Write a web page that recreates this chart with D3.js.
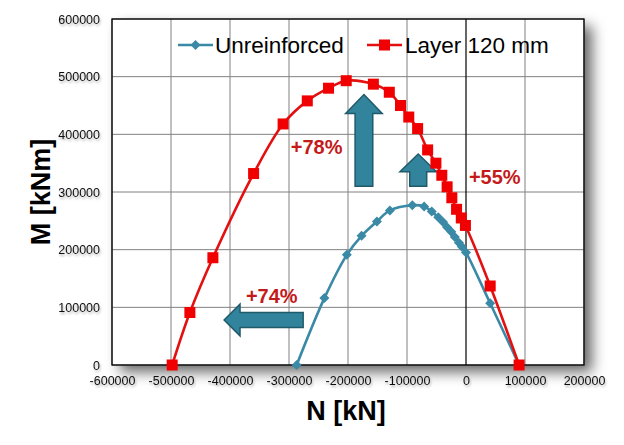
<!DOCTYPE html>
<html>
<head>
<meta charset="utf-8">
<script src="https://cdn.jsdelivr.net/npm/d3@7"></script>
<style>
body { margin: 0; background: #fff; }
svg { display: block; font-family: Arial, "Liberation Sans", sans-serif; }
</style>
</head>
<body>
<svg id="chart" width="624" height="445"></svg>
<script>
// series: Unreinforced
var unrN = [-287000, -240000, -202000, -177000, -151000, -129000, -91000, -71000, -58000, -47000, -39000, -32000, -25000, -19000, -12000, -7000, 0, 41000, 90000];
var unrM = [0, 116000, 191000, 224000, 249000, 268000, 277000, 275000, 266000, 256000, 248000, 239000, 231000, 222000, 212000, 205000, 195000, 107000, 0];
// series: Layer 120 mm
var layN = [-498000, -468000, -429000, -360000, -310000, -269000, -233000, -203000, -157000, -130000, -111000, -97000, -82000, -65000, -51000, -41000, -32000, -24000, -16000, -8000, -1000, 41000, 90000];
var layM = [0, 91000, 186000, 332000, 418000, 458000, 480000, 493000, 487000, 473000, 450000, 430000, 410000, 373000, 350000, 329000, 309000, 290000, 270000, 255000, 242000, 137000, 0];

var xTicks = [-600000, -500000, -400000, -300000, -200000, -100000, 0, 100000, 200000];
var yTicks = [0, 100000, 200000, 300000, 400000, 500000, 600000];
var seriesNames = ["Unreinforced", "Layer 120 mm"];

// annotations (data units)
var labels = [
  { text: "+78%", n: -297000, m: 366000 },
  { text: "+55%", n: 5000, m: 314000 },
  { text: "+74%", n: -373000, m: 107000 }
];
// up arrows: center N, tip M, head base M, tail M, head half width, shaft half width (N units)
var upArrows = [
  { n: -173000, tip: 469000, head: 436000, tail: 310000, hw: 31000, sw: 15000 },
  { n: -81000, tip: 366000, head: 335000, tail: 310000, hw: 31000, sw: 14400 }
];
// left arrow: center M, tip N, head base N, tail N, half heights (M units)
var leftArrows = [
  { m: 78000, tip: -410000, head: -383000, tail: -276000, hh: 27500, sh: 13000 }
];

var svg = d3.select("#chart");
var margin = { top: 19, right: 40, bottom: 80, left: 112 };
var width = +svg.attr("width") - margin.left - margin.right;
var height = +svg.attr("height") - margin.top - margin.bottom;

var defs = svg.append("defs");
var sh = defs.append("filter").attr("id", "shadow").attr("x", "-10%").attr("y", "-10%").attr("width", "130%").attr("height", "130%");
sh.append("feDropShadow").attr("dx", 8).attr("dy", 7).attr("stdDeviation", 7).attr("flood-color", "#000").attr("flood-opacity", 0.6);
var tsh = defs.append("filter").attr("id", "tshadow").attr("x", "-20%").attr("y", "-50%").attr("width", "140%").attr("height", "200%");
tsh.append("feDropShadow").attr("dx", 1).attr("dy", 2).attr("stdDeviation", 1.2).attr("flood-color", "#000").attr("flood-opacity", 0.3);

var g = svg.append("g").attr("transform", "translate(" + margin.left + "," + margin.top + ")");

var x = d3.scaleLinear().domain([-600000, 200000]).range([0, width]);
var y = d3.scaleLinear().domain([0, 600000]).range([height, 0]);

g.append("rect").attr("width", width).attr("height", height)
  .attr("fill", "#fff").attr("filter", "url(#shadow)");

// grid
g.append("g").selectAll("line").data(xTicks.filter(function (d) { return d !== 0; }))
  .enter().append("line")
  .attr("x1", function (d) { return x(d); }).attr("x2", function (d) { return x(d); })
  .attr("y1", 0).attr("y2", height)
  .attr("stroke", "#808080").attr("stroke-width", 1);
g.append("g").selectAll("line").data(yTicks)
  .enter().append("line")
  .attr("x1", 0).attr("x2", width)
  .attr("y1", function (d) { return y(d); }).attr("y2", function (d) { return y(d); })
  .attr("stroke", "#808080").attr("stroke-width", 1);
g.append("line").attr("x1", x(0)).attr("x2", x(0)).attr("y1", 0).attr("y2", height)
  .attr("stroke", "#000").attr("stroke-width", 1.2);

g.append("rect").attr("width", width).attr("height", height)
  .attr("fill", "none").attr("stroke", "#000").attr("stroke-width", 1.3);

// tick labels (plain hyphen minus like the original)
var fmt = function (d) { return String(d); };
var xAxis = g.append("g").attr("transform", "translate(0," + height + ")")
  .call(d3.axisBottom(x).tickValues(xTicks).tickFormat(fmt).tickSize(0).tickPadding(11));
var yAxis = g.append("g")
  .call(d3.axisLeft(y).tickValues(yTicks).tickFormat(fmt).tickSize(0).tickPadding(12));
[xAxis, yAxis].forEach(function (a) {
  a.select(".domain").remove();
  a.selectAll("text").attr("font-size", 12.5).attr("fill", "#111")
    .attr("font-family", "Arial, 'Liberation Sans', sans-serif").attr("filter", "url(#tshadow)");
});

// arrows
var arrowFill = "#31849b", arrowStroke = "#215a6b";
g.selectAll(".uparrow").data(upArrows).enter().append("path")
  .attr("class", "uparrow")
  .attr("d", function (a) {
    var pts = [[a.n, a.tip], [a.n + a.hw, a.head], [a.n + a.sw, a.head], [a.n + a.sw, a.tail],
      [a.n - a.sw, a.tail], [a.n - a.sw, a.head], [a.n - a.hw, a.head]];
    return "M" + pts.map(function (p) { return x(p[0]) + "," + y(p[1]); }).join("L") + "Z";
  })
  .attr("fill", arrowFill).attr("stroke", arrowStroke).attr("stroke-width", 1.5);
g.selectAll(".leftarrow").data(leftArrows).enter().append("path")
  .attr("class", "leftarrow")
  .attr("d", function (a) {
    var pts = [[a.tip, a.m], [a.head, a.m + a.hh], [a.head, a.m + a.sh], [a.tail, a.m + a.sh],
      [a.tail, a.m - a.sh], [a.head, a.m - a.sh], [a.head, a.m - a.hh]];
    return "M" + pts.map(function (p) { return x(p[0]) + "," + y(p[1]); }).join("L") + "Z";
  })
  .attr("fill", arrowFill).attr("stroke", arrowStroke).attr("stroke-width", 1.5);

// series
var line = d3.line().x(function (d) { return x(d[0]); }).y(function (d) { return y(d[1]); })
  .curve(d3.curveCatmullRom.alpha(0.5));
var unr = d3.zip(unrN, unrM);
var lay = d3.zip(layN, layM);
var blue = "#3a89a6", red = "#f00000";

g.append("path").datum(unr).attr("d", line).attr("fill", "none").attr("stroke", blue).attr("stroke-width", 2.6);
g.selectAll(".dia").data(unr).enter().append("path").attr("class", "dia")
  .attr("d", d3.symbol().type(d3.symbolSquare).size(50))
  .attr("transform", function (d) { return "translate(" + x(d[0]) + "," + y(d[1]) + ") rotate(45)"; })
  .attr("fill", blue);

g.append("path").datum(lay).attr("d", line).attr("fill", "none").attr("stroke", "#e41010").attr("stroke-width", 2.6);
g.selectAll(".sq").data(lay).enter().append("rect").attr("class", "sq")
  .attr("x", function (d) { return x(d[0]) - 5.5; }).attr("y", function (d) { return y(d[1]) - 5.5; })
  .attr("width", 11).attr("height", 11).attr("fill", red);

// percentage labels
g.selectAll(".pct").data(labels).enter().append("text").attr("class", "pct")
  .attr("x", function (d) { return x(d.n); }).attr("y", function (d) { return y(d.m); })
  .attr("font-size", 20).attr("font-weight", "bold").attr("fill", "#c41a1a")
  .text(function (d) { return d.text; });

// legend
var leg = svg.append("g");
var legItems = [
  { name: seriesNames[0], color: blue, x0: 178, tx: 215 },
  { name: seriesNames[1], color: red, x0: 367, tx: 405 }
];
legItems.forEach(function (it, i) {
  leg.append("line").attr("x1", it.x0).attr("x2", it.x0 + 35).attr("y1", 45).attr("y2", 45)
    .attr("stroke", i === 0 ? blue : "#e41010").attr("stroke-width", 2.6);
  if (i === 0) {
    leg.append("path").attr("d", d3.symbol().type(d3.symbolSquare).size(50))
      .attr("transform", "translate(" + (it.x0 + 17.5) + ",45) rotate(45)").attr("fill", blue);
  } else {
    leg.append("rect").attr("x", it.x0 + 12).attr("y", 39.5).attr("width", 11).attr("height", 11).attr("fill", red);
  }
  leg.append("text").attr("x", it.tx).attr("y", 53).attr("font-size", 22.5).attr("fill", "#000").text(it.name);
});

// axis titles
svg.append("text").attr("x", 346).attr("y", 420).attr("text-anchor", "middle")
  .attr("font-size", 27).attr("font-weight", "bold").text("N [kN]");
svg.append("text").attr("transform", "translate(50,192) rotate(-90)").attr("text-anchor", "middle")
  .attr("font-size", 27).attr("font-weight", "bold").text("M [kNm]");
</script>
</body>
</html>
